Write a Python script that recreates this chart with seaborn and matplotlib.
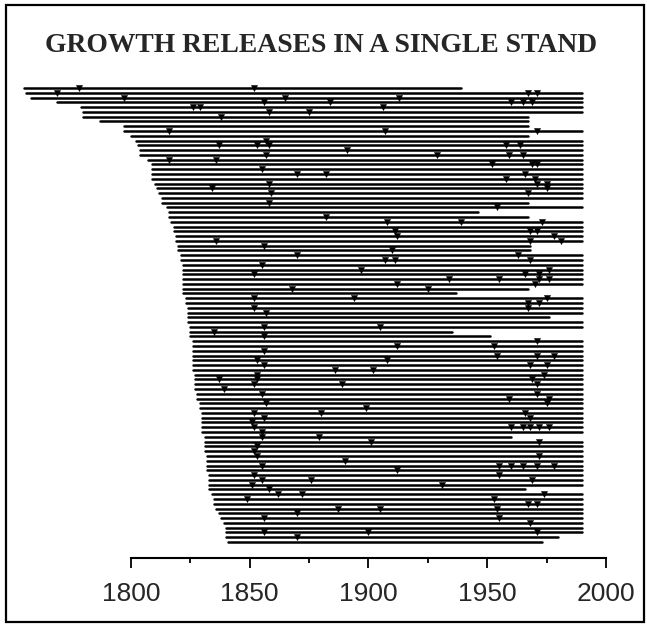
import pandas as pd
import matplotlib.pyplot as plt
import seaborn as sns
from matplotlib.patches import Rectangle
from matplotlib.ticker import FixedLocator

# first year of each tree series, top row to bottom row
start_years = [1755, 1756, 1758, 1769, 1779, 1780, 1780, 1787, 1797, 1797,
               1800, 1802, 1803, 1804, 1804, 1807, 1809, 1809, 1809, 1809,
               1810, 1811, 1812, 1813, 1813, 1815, 1816, 1816, 1817, 1818,
               1818, 1819, 1819, 1820, 1820, 1821, 1821, 1822, 1822, 1822,
               1822, 1822, 1822, 1822, 1823, 1823, 1824, 1824, 1824, 1824,
               1825, 1825, 1825, 1826, 1826, 1826, 1826, 1826, 1826, 1826,
               1827, 1827, 1827, 1827, 1828, 1828, 1829, 1829, 1830, 1830,
               1830, 1830, 1830, 1831, 1831, 1831, 1831, 1832, 1832, 1832,
               1832, 1833, 1833, 1833, 1833, 1834, 1835, 1835, 1836, 1837,
               1838, 1839, 1840, 1840, 1840, 1841]

# last year of each series
end_years = [1939, 1990, 1990, 1990, 1990, 1990, 1967, 1967, 1967, 1990,
             1967, 1990, 1990, 1990, 1990, 1990, 1990, 1990, 1990, 1990,
             1990, 1990, 1990, 1990, 1967, 1990, 1946, 1967, 1990, 1990,
             1990, 1990, 1990, 1968, 1968, 1990, 1990, 1990, 1990, 1990,
             1990, 1990, 1967, 1937, 1990, 1990, 1990, 1990, 1976, 1990,
             1990, 1935, 1951, 1990, 1990, 1990, 1990, 1990, 1990, 1990,
             1990, 1990, 1990, 1990, 1990, 1990, 1990, 1990, 1990, 1990,
             1990, 1990, 1990, 1960, 1990, 1990, 1990, 1990, 1990, 1990,
             1990, 1990, 1990, 1990, 1966, 1990, 1990, 1990, 1990, 1990,
             1990, 1990, 1990, 1990, 1980, 1973]

# growth releases: row of the tree and year of the release
release_rows = [0, 1, 2, 0, 2, 3, 3, 2, 4, 4, 5, 5, 4, 6, 9, 9, 11, 12, 12, 12,
                13, 14, 15, 15, 17, 18, 18, 20, 21,
                1, 1, 3, 3, 3, 9, 12, 12, 14, 14, 14, 16, 16, 16, 19, 18, 19,
                21, 20, 20, 22, 25, 28, 28, 30, 30, 31, 32, 32, 35, 36, 38,
                39, 39, 40, 40, 40, 40, 41, 44, 45, 45, 46,
                53, 54, 56, 56, 56, 58, 58, 60, 61, 62, 64, 65, 65, 66, 68, 69,
                71, 71, 71, 71, 71, 74, 77, 79, 79, 79, 79, 79, 81, 82,
                46, 47, 50, 51, 50, 52, 54, 55, 57, 58, 59, 59, 57, 60, 61, 61,
                62, 63, 62, 64, 66, 68, 67, 69,
                83, 84, 85, 85, 86, 89, 88, 88, 90, 93, 93, 94,
                83, 85, 86, 87, 87, 88, 90, 91, 93,
                22, 24, 27, 28, 30, 31, 32, 33, 34, 35, 36, 36, 37, 38, 39,
                41, 42, 42, 44, 44,
                70, 71, 72, 73, 73, 74, 75, 76, 77, 78, 79, 80, 81, 82, 82, 68]
release_years = [1778, 1769, 1797, 1852, 1865, 1856, 1884, 1913, 1826, 1829,
                 1858, 1875, 1906, 1838, 1816, 1907, 1857, 1853, 1858, 1837,
                 1891, 1857, 1816, 1836, 1855, 1870, 1882, 1858, 1834,
                 1967, 1971, 1960, 1965, 1969, 1971, 1958, 1964, 1929, 1959,
                 1965, 1952, 1969, 1971, 1958, 1966, 1970,
                 1975, 1971, 1975, 1967, 1954, 1939, 1973, 1968, 1971, 1978,
                 1981, 1968, 1963, 1968, 1976,
                 1966, 1972, 1934, 1955, 1972, 1976, 1970, 1975, 1967, 1972, 1967,
                 1971, 1953, 1971, 1954, 1978, 1968, 1975, 1974, 1969, 1971,
                 1971, 1959, 1976, 1975, 1966, 1968,
                 1960, 1965, 1968, 1972, 1976, 1972, 1972, 1955, 1960, 1965,
                 1971, 1978, 1955, 1969,
                 1852, 1857, 1856, 1835, 1905, 1856, 1912, 1856, 1853, 1856,
                 1886, 1902, 1908, 1853, 1853, 1837,
                 1852, 1839, 1889, 1855, 1857, 1852, 1899, 1856,
                 1851, 1858, 1862, 1872, 1849, 1870, 1887, 1905, 1856, 1856,
                 1900, 1870,
                 1931, 1974, 1953, 1967, 1971, 1954, 1955, 1968, 1971,
                 1859, 1858, 1882, 1908, 1911, 1912, 1836, 1856, 1910, 1870,
                 1907, 1911, 1855, 1897, 1852,
                 1912, 1925, 1868, 1852, 1894,
                 1851, 1852, 1855, 1879, 1855, 1901, 1853, 1852, 1853, 1890,
                 1855, 1912, 1852, 1876, 1855, 1880]

x_ticks = [1800, 1850, 1900, 1950, 2000]
x_minor_ticks = [1825, 1875, 1925, 1975]

rows = list(range(len(start_years)))
series = pd.DataFrame({
    "tree": rows * 2,
    "year": start_years + end_years,
    "row": rows * 2,
})
releases = pd.DataFrame({"year": release_years, "row": release_rows})

sns.set_style("white")
plt.rcParams["font.family"] = ["Liberation Sans", "DejaVu Sans"]

fig = plt.figure(figsize=(6.47, 6.24), dpi=100)
ax = fig.add_axes([0.0189, 0.1058, 0.936, 0.766])

sns.lineplot(data=series, x="year", y="row", units="tree", estimator=None,
             color="black", linewidth=1.8, ax=ax, legend=False)
sns.scatterplot(data=releases, x="year", y="row", marker="v", s=20,
                color="black", edgecolor="black", linewidth=0.3, ax=ax,
                legend=False, zorder=3)

ax.set_xlim(1750, 2005)
ax.set_ylim(98.35, -1.67)
ax.set_xticks(x_ticks)
ax.set_xticklabels([str(t) for t in x_ticks], fontsize=19)
ax.xaxis.set_minor_locator(FixedLocator(x_minor_ticks))
ax.tick_params(axis="x", which="major", direction="out", length=7.2,
               width=1.3, pad=10, color="black", bottom=True)
ax.tick_params(axis="x", which="minor", direction="out", length=3.6,
               width=1.3, color="black", bottom=True)
ax.set_yticks([])
ax.set_xlabel("")
ax.set_ylabel("")
for side in ["top", "left", "right"]:
    ax.spines[side].set_visible(False)
ax.spines["bottom"].set_bounds(1800, 2000)
ax.spines["bottom"].set_linewidth(1.5)
ax.spines["bottom"].set_color("black")

fig.text(0.497, 0.927, "GROWTH RELEASES IN A SINGLE STAND",
         ha="center", va="center", fontsize=19.9, fontweight="bold",
         family=["Liberation Serif", "DejaVu Serif"])

fig.patches.append(Rectangle((0.009, 0.003), 0.986, 0.989,
                             transform=fig.transFigure, fill=False,
                             edgecolor="black", linewidth=1.6))

fig.savefig("out.png", dpi=100)
